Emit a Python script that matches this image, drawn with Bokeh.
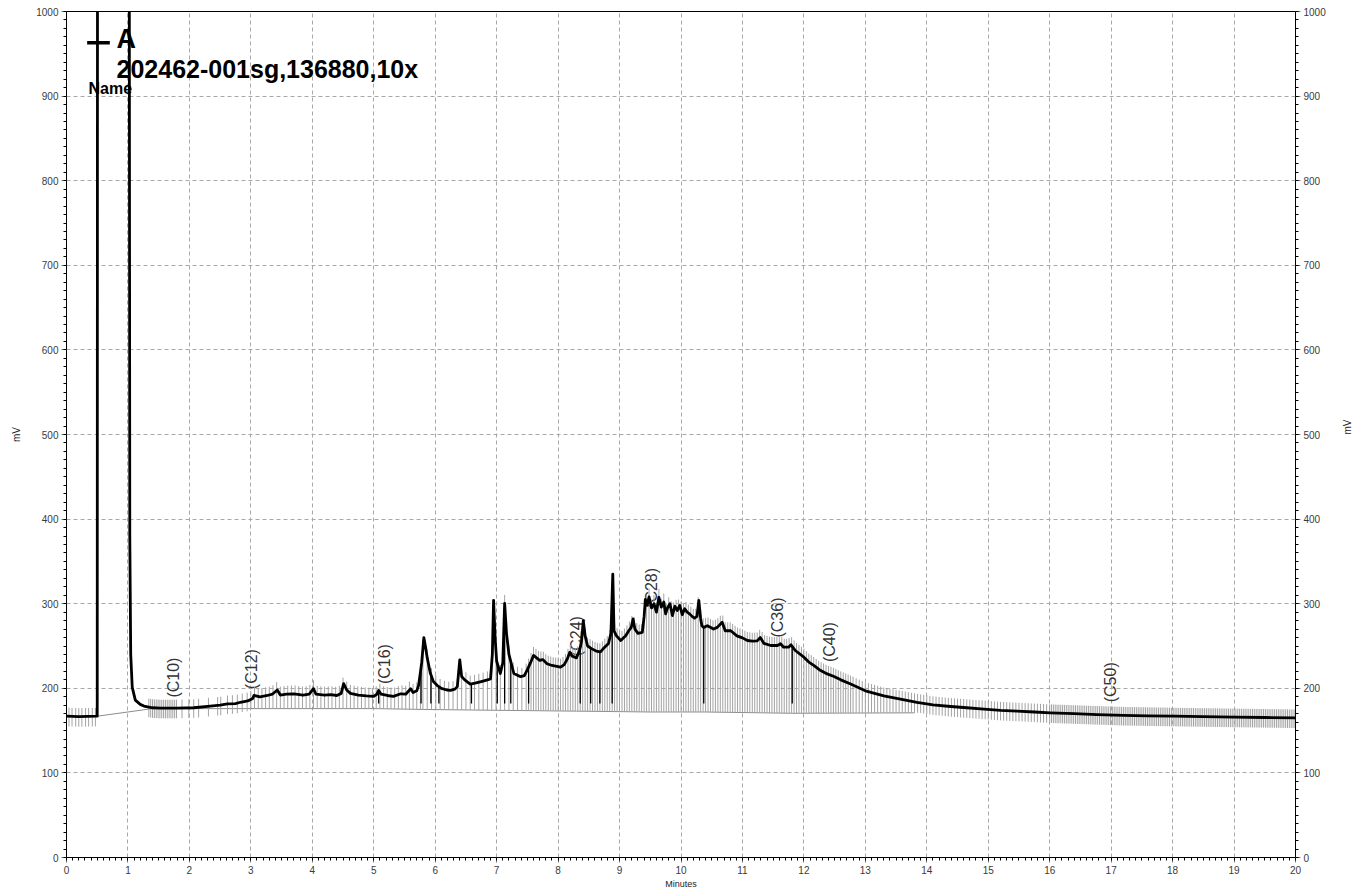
import numpy as np
from bokeh.plotting import figure
from bokeh.models import Range1d, LinearAxis, SingleIntervalTicker
from bokeh.core.properties import value
from bokeh.embed import file_html
from bokeh.resources import INLINE

# ---------------- data ----------------
time_min = [0.00, 0.20, 0.49, 0.50, 0.505, 1.02, 1.03, 1.045, 1.07, 1.12, 1.20, 1.26, 1.40, 1.53, 1.80,
            2.07, 2.34, 2.50, 2.62, 2.75, 2.83, 2.95, 2.99, 3.03, 3.05, 3.15, 3.27, 3.35, 3.43, 3.48,
            3.58, 3.70, 3.85, 3.95, 4.02, 4.06, 4.20, 4.30, 4.40, 4.47, 4.51, 4.56, 4.62, 4.75, 4.88,
            5.00, 5.05, 5.08, 5.12, 5.22, 5.32, 5.44, 5.52, 5.60, 5.64, 5.70, 5.73, 5.78, 5.815, 5.84,
            5.87, 5.92, 5.97, 6.03, 6.10, 6.19, 6.25, 6.32, 6.36, 6.40, 6.43, 6.48, 6.57, 6.65, 6.75,
            6.85, 6.90, 6.93, 6.95, 6.975, 7.00, 7.06, 7.10, 7.13, 7.16, 7.20, 7.28, 7.39, 7.45, 7.50,
            7.55, 7.60, 7.65, 7.70, 7.75, 7.82, 7.90, 7.98, 8.04, 8.10, 8.15, 8.19, 8.23, 8.30, 8.35,
            8.38, 8.41, 8.44, 8.48, 8.55, 8.62, 8.69, 8.75, 8.82, 8.86, 8.89, 8.91, 8.95, 9.02, 9.10,
            9.15, 9.19, 9.22, 9.25, 9.30, 9.37, 9.40, 9.42, 9.45, 9.48, 9.52, 9.56, 9.60, 9.64, 9.68,
            9.72, 9.75, 9.78, 9.82, 9.86, 9.90, 9.94, 9.98, 10.02, 10.06, 10.10, 10.14, 10.18, 10.22,
            10.26, 10.29, 10.32, 10.34, 10.37, 10.43, 10.53, 10.59, 10.67, 10.72, 10.81, 10.91, 11.00,
            11.08, 11.16, 11.24, 11.29, 11.35, 11.46, 11.57, 11.62, 11.67, 11.75, 11.79, 11.86,
            12.00, 12.08, 12.16, 12.25, 12.38, 12.49, 12.60, 12.76, 13.00, 13.30, 13.55,
            13.84, 14.10, 14.39, 14.65, 14.93, 15.20, 15.47, 15.75, 16.01, 16.40, 16.77, 17.20, 17.60,
            18.02, 18.50, 19.00, 19.50, 20.00]
signal_mv = [167, 166.5, 167, 167, 1200, 1200, 380, 240, 201, 186, 181, 179, 177, 176.5, 176.5,
             177, 179, 180, 181.5, 182, 183.5, 185, 186.5, 188, 191.5, 190, 191.5, 193, 198, 192,
             193, 193.5, 192, 193, 199.5, 193, 192, 192.5, 191.5, 194, 205.5, 198, 194, 192, 191,
             190.5, 193, 197.5, 193, 191.5, 190.5, 193.5, 193, 199.5, 195, 197, 203.5, 230, 260, 250,
             236, 218, 208, 203.5, 200, 198, 197.5, 199, 202, 233.5, 214, 210, 205, 206, 208,
             210, 211, 240, 304, 260, 232, 217.5, 230, 300.5, 265, 240, 217.5, 213.7, 215, 222,
             230, 238.8, 236, 233, 234, 229, 227, 226, 225, 228, 234.7, 242.6, 238, 236, 245,
             255, 280, 262, 250, 246.6, 244, 243, 248, 253, 265, 335, 268, 262, 256.5, 262,
             268, 272, 282, 270, 265, 266, 285, 305, 298, 308, 295, 300, 290, 307.6, 296,
             302, 288, 295, 300, 286, 297, 292, 298, 287, 294, 290, 288, 285, 283,
             285, 303.8, 282, 274, 272, 274, 270, 272, 278, 268, 268, 262, 259.6,
             256.5, 255.7, 256, 260, 253, 250.6, 250.6, 252.6, 248.6, 248.6, 251.4, 244.7,
             236.8, 231, 227, 222, 217, 214, 210, 205, 197, 191, 187.5,
             183.5, 180.5, 178.5, 177, 175.5, 174, 173, 172, 171, 170, 169, 168, 167.5,
             167, 166.5, 166, 165.5, 165]

# integration baseline (thin grey line)
baseline_time = [0.50, 1.40, 3.00, 5.00, 5.80, 7.00, 8.30, 9.50, 10.40, 11.80, 13.80]
baseline_mv = [167, 176, 176, 176, 175, 174, 173, 172, 172, 170.5, 171]

# integration event ticks (grey drop lines)
drop_times_a = [0.04, 0.09, 0.15, 0.20, 0.25, 0.31, 0.36, 0.42, 0.47]
drop_times_b = [1.34, 1.37, 1.40, 1.43, 1.46, 1.49, 1.52, 1.55, 1.58, 1.61, 1.64, 1.67, 1.70, 1.73,
                1.76, 1.79, 1.88, 1.99, 2.07, 2.15, 2.31, 2.46, 2.51, 2.62, 2.70, 2.78, 2.86, 2.94]
drop_times_c = [3.00, 3.06, 3.12, 3.18, 3.24, 3.30, 3.36, 3.42, 3.48, 3.54, 3.60, 3.66, 3.72, 3.78,
                3.84, 3.90, 3.96, 4.02, 4.08, 4.14, 4.20, 4.26, 4.32, 4.38, 4.44, 4.50, 4.56, 4.62,
                4.68, 4.74, 4.80, 4.86, 4.92, 4.98, 5.04, 5.10, 5.16, 5.22, 5.28, 5.34, 5.40, 5.46,
                5.52, 5.58, 5.64, 5.70, 5.76]
drop_times_d = [5.80, 5.87, 5.94, 6.01, 6.08, 6.15, 6.22, 6.29, 6.36, 6.43, 6.50, 6.57, 6.64, 6.71,
                6.78, 6.85, 6.92, 6.99, 7.06, 7.13, 7.20, 7.27, 7.34, 7.41, 7.48,
                7.52, 7.56, 7.60, 7.64, 7.68, 7.72, 7.76, 7.80, 7.84, 7.88, 7.92, 7.96, 8.00, 8.04,
                8.08, 8.12, 8.16, 8.20, 8.24, 8.28, 8.32, 8.36, 8.40, 8.44, 8.48, 8.52, 8.56, 8.60,
                8.64, 8.68, 8.72, 8.76, 8.80, 8.84, 8.88, 8.92, 8.96, 9.00, 9.04, 9.08, 9.12, 9.16,
                9.20, 9.24, 9.28, 9.32, 9.36, 9.40, 9.44, 9.48, 9.52, 9.56, 9.60, 9.64, 9.68, 9.72,
                9.76, 9.80, 9.84, 9.88, 9.92, 9.96, 10.00, 10.04, 10.08, 10.12, 10.16, 10.20, 10.24,
                10.28, 10.32, 10.36, 10.40, 10.44, 10.48, 10.52, 10.56, 10.60, 10.64, 10.68, 10.72,
                10.76, 10.80, 10.84, 10.88, 10.92, 10.96, 11.00, 11.04, 11.08, 11.12, 11.16, 11.20,
                11.24, 11.28, 11.32, 11.36, 11.40, 11.44, 11.48, 11.52, 11.56, 11.60, 11.64, 11.68,
                11.72, 11.76, 11.80, 11.84, 11.88, 11.92, 11.96, 12.00, 12.04, 12.08, 12.12, 12.16,
                12.20, 12.24, 12.28, 12.32, 12.36, 12.40, 12.44, 12.48, 12.52, 12.56, 12.60, 12.64,
                12.68, 12.72, 12.76, 12.80]
drop_times_e = [12.85, 12.90, 12.95, 13.00, 13.05, 13.10, 13.15, 13.20, 13.25, 13.30, 13.35, 13.40,
                13.45, 13.50, 13.55, 13.60, 13.65, 13.70, 13.75, 13.80, 13.85, 13.90, 13.95, 14.00,
                14.05, 14.10, 14.15, 14.20, 14.25, 14.30, 14.35, 14.40, 14.45, 14.50, 14.55, 14.60,
                14.65, 14.70, 14.75, 14.80, 14.85, 14.90, 14.95, 15.00, 15.05, 15.10, 15.15, 15.20,
                15.25, 15.30, 15.35, 15.40, 15.45, 15.50, 15.55, 15.60, 15.65, 15.70, 15.75, 15.80,
                15.85, 15.90, 15.95, 16.00]
drop_times_f = [16.03, 16.06, 16.09, 16.12, 16.15, 16.18, 16.21, 16.24, 16.27, 16.30, 16.33, 16.36,
                16.39, 16.42, 16.45, 16.48, 16.51, 16.54, 16.57, 16.60, 16.63, 16.66, 16.69, 16.72,
                16.75, 16.78, 16.81, 16.84, 16.87, 16.90, 16.93, 16.96, 16.99, 17.02, 17.05, 17.08,
                17.11, 17.14, 17.17, 17.20, 17.23, 17.26, 17.29, 17.32, 17.35, 17.38, 17.41, 17.44,
                17.47, 17.50, 17.53, 17.56, 17.59, 17.62, 17.65, 17.68, 17.71, 17.74, 17.77, 17.80,
                17.83, 17.86, 17.89, 17.92, 17.95, 17.98, 18.01, 18.04, 18.07, 18.10, 18.13, 18.16,
                18.19, 18.22, 18.25, 18.28, 18.31, 18.34, 18.37, 18.40, 18.43, 18.46, 18.49, 18.52,
                18.55, 18.58, 18.61, 18.64, 18.67, 18.70, 18.73, 18.76, 18.79, 18.82, 18.85, 18.88,
                18.91, 18.94, 18.97, 19.00, 19.03, 19.06, 19.09, 19.12, 19.15, 19.18, 19.21, 19.24,
                19.27, 19.30, 19.33, 19.36, 19.39, 19.42, 19.45, 19.48, 19.51, 19.54, 19.57, 19.60,
                19.63, 19.66, 19.69, 19.72, 19.75, 19.78, 19.81, 19.84, 19.87, 19.90, 19.93, 19.96, 19.99]
tick_above_mv = 10     # grey tick reaches above the trace
tick_below_mv = 12     # grey tick reaches below the trace where no baseline lies under it

# dark peak-marker lines
marker_times = [5.08, 5.77, 5.93, 6.06, 6.59, 7.01, 7.13, 7.23, 7.52, 8.36, 8.53, 8.68, 8.88, 10.37, 11.81]
marker_floor_mv = 182

# carbon-range labels
peak_labels = ["(C10)", "(C12)", "(C16)", "(C24)", "(C28)", "(C36)", "(C40)", "(C50)"]
peak_label_time = [1.746, 3.016, 5.18, 8.30, 9.52, 11.565, 12.41, 16.99]
peak_label_mv = [189, 199, 205, 238, 295, 260, 231, 183.5]

trace_name = "A"
sample_name = "202462-001sg,136880,10x"
name_caption = "Name"

# ---------------- figure ----------------
FONT = "Liberation Sans"
p = figure(width=1365, height=896, x_range=Range1d(0, 20), y_range=Range1d(0, 1000),
           output_backend="svg", toolbar_location=None,
           min_border_left=66, min_border_right=70, min_border_top=11, min_border_bottom=39)
p.background_fill_color = "white"
p.border_fill_color = "white"
p.outline_line_color = "black"
p.outline_line_width = 1

xt = SingleIntervalTicker(interval=1, num_minor_ticks=10)
yt = SingleIntervalTicker(interval=100, num_minor_ticks=10)
p.xaxis.ticker = xt
p.yaxis.ticker = yt
p.xgrid.ticker = xt
p.ygrid.ticker = yt
for g in (p.xgrid, p.ygrid):
    g.grid_line_color = "#a8a8a8"
    g.grid_line_dash = "4 3"
    g.grid_line_width = 1

right_axis = LinearAxis(ticker=yt, axis_label="mV")
p.add_layout(right_axis, "right")
p.xaxis.axis_label = "Minutes"
p.yaxis.axis_label = "mV"

for ax in list(p.xaxis) + list(p.yaxis) + [right_axis]:
    ax.axis_line_color = "black"
    ax.major_tick_line_color = "#777777"
    ax.minor_tick_line_color = "black"
    ax.major_tick_out = 5
    ax.major_tick_in = 0
    ax.minor_tick_out = 3
    ax.minor_tick_in = 0
    ax.major_label_text_font = FONT
    ax.major_label_text_font_size = "10px"
    ax.major_label_text_color = "#3a3a3a"
    ax.axis_label_text_font = FONT
    ax.axis_label_text_font_size = "10px"
    ax.axis_label_text_font_style = "normal"
    ax.axis_label_text_color = "#222222"
    ax.major_label_standoff = 3
p.xaxis.axis_label_standoff = 2
p.xaxis.axis_label_text_font_size = "9px"
p.yaxis.axis_label_standoff = 11
right_axis.axis_label_standoff = 19
right_axis.axis_label_orientation = np.pi / 2

# header texts (under the trace)
p.text(x=[0.814], y=[968], text=[trace_name], text_font=value(FONT),
       text_font_size="27px", text_font_style="bold", text_color="black",
       text_align="left", text_baseline="alphabetic")
p.text(x=[0.814], y=[932], text=[sample_name], text_font=value(FONT),
       text_font_size="25px", text_font_style="bold", text_color="black",
       text_align="left", text_baseline="alphabetic")
p.text(x=[0.358], y=[908.5], text=[name_caption], text_font=value(FONT),
       text_font_size="16px", text_font_style="bold", text_color="black",
       text_align="left", text_baseline="alphabetic")

# carbon labels (rotated)
p.text(x=peak_label_time, y=peak_label_mv, text=peak_labels, angle=np.pi / 2,
       text_font=value(FONT), text_font_size="16px", text_color="#333333",
       text_align="left", text_baseline="middle")

t_arr = np.array(time_min, dtype=float)
s_arr = np.array(signal_mv, dtype=float)

# baseline
p.line(baseline_time, baseline_mv, line_color="#8c8c8c", line_width=1)

# grey integration ticks
drops = np.array(drop_times_a + drop_times_b + drop_times_c + drop_times_d + drop_times_e + drop_times_f)
trace_at = np.interp(drops, t_arr, s_arr)
base_at = np.interp(drops, baseline_time, baseline_mv)
tops = trace_at + tick_above_mv
bots = np.minimum(base_at, trace_at - tick_below_mv)
p.segment(x0=drops, y0=bots, x1=drops, y1=tops, line_color="#a3a3a3", line_width=1)

# dark marker lines
mk = np.array(marker_times)
mk_top = np.interp(mk, t_arr, s_arr)
p.segment(x0=mk, y0=mk_top, x1=mk, y1=np.full(len(mk), marker_floor_mv),
          line_color="black", line_width=1.3)

# trace
curve = p.line(time_min, signal_mv, line_color="black", line_width=2.8, line_join="round")

# legend key for trace A
p.segment(x0=[0.336], y0=[963], x1=[0.705], y1=[963], line_color="black", line_width=3.5)

open("out.html", "w").write(file_html(p, INLINE))
